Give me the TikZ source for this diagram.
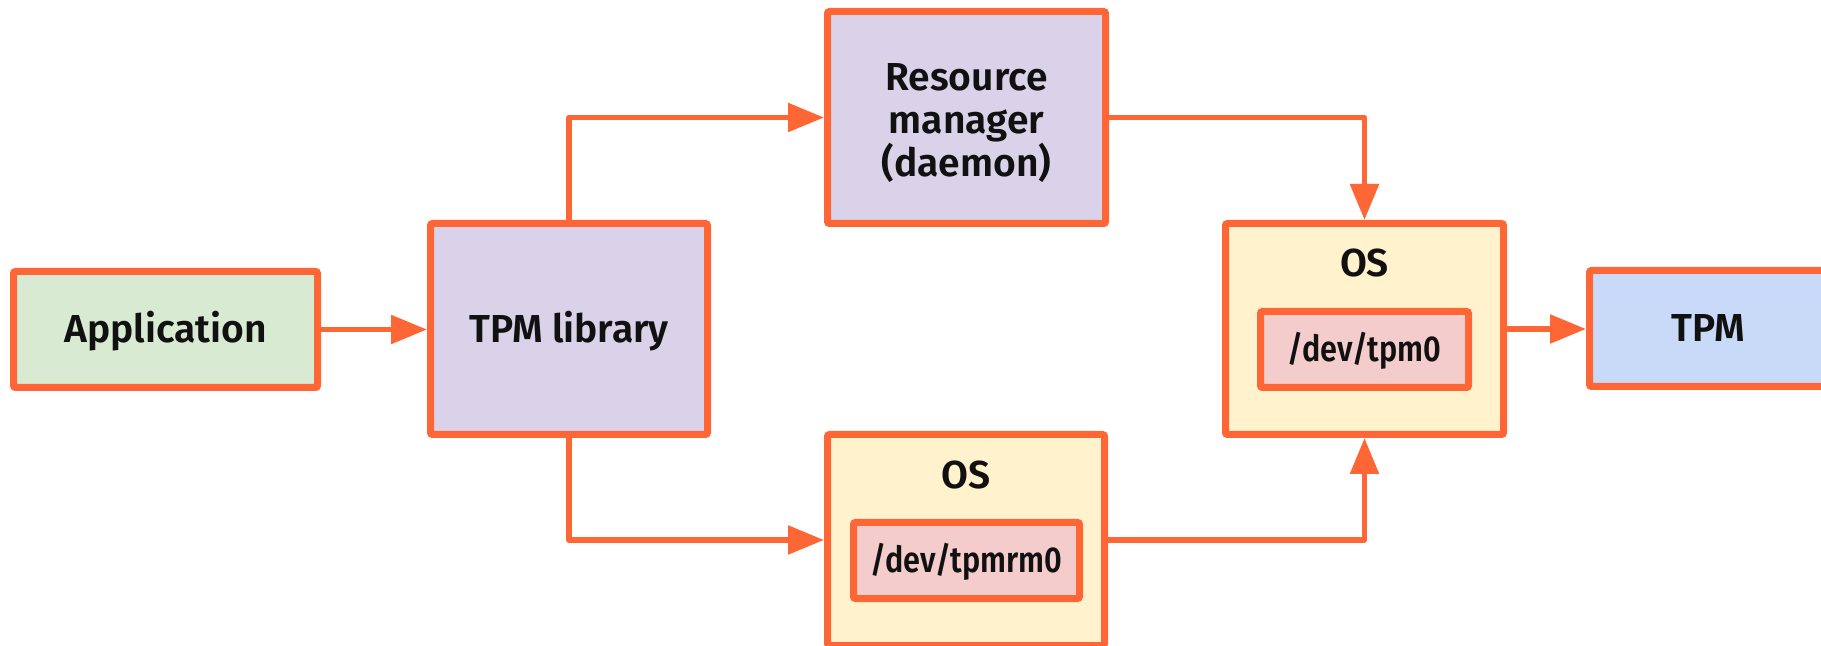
\documentclass[tikz,border=0pt]{standalone}
\usepackage{fontspec}
\newfontfamily\dfont{Fira Sans SemiBold}
\usetikzlibrary{arrows.meta}
\definecolor{edge}{HTML}{FF6636}
\definecolor{appfill}{HTML}{D9EAD3}
\definecolor{libfill}{HTML}{D9D2E9}
\definecolor{osfill}{HTML}{FFF2CC}
\definecolor{devfill}{HTML}{F4CCCC}
\definecolor{tpmfill}{HTML}{C9DAF8}
\definecolor{ink}{HTML}{111111}
\newcommand{\dfontsize}{\dfont\fontsize{19.5pt}{21.5pt}\selectfont}
\newcommand{\devfontsize}{\dfont\fontsize{18pt}{20pt}\selectfont}
\newcommand{\devtext}[1]{\scalebox{0.85}[1]{#1}}
\begin{document}
\begin{tikzpicture}[x=0.5pt,y=-0.5pt,
  box/.style={draw=edge, line width=3.5pt, rounded corners=1pt, inner sep=0pt,
    text=ink, font=\dfontsize, text height=13.4pt, text depth=0pt},
  devbox/.style={box, fill=devfill, font=\devfontsize, text height=12.4pt},
  lbl/.style={inner sep=0pt, text=ink, font=\dfontsize, text height=13.4pt, text depth=0pt},
  rmtxt/.style={inner sep=0pt, text=ink, font=\dfontsize, align=center},
  arr/.style={draw=edge, line width=2.75pt, line join=round,
    -{Triangle[length=18pt,width=14pt]}}]
\clip (0,0) rectangle (1821,646);
\fill[white] (0,0) rectangle (1821,646);

\node[box, fill=appfill, minimum width=152pt, minimum height=58pt] (app) at (165.5,329.5) {Application};
\node[box, fill=libfill, minimum width=138.5pt, minimum height=105.5pt] (lib) at (569,329) {TPM library};
\node[box, fill=libfill, minimum width=139pt, minimum height=106pt] (rm) at (966.5,117.5) {};
\node[rmtxt, anchor=north] (rmt) at (966.5,63) {Resource\\manager\\(daemon)};
\node[box, fill=osfill, minimum width=138.5pt, minimum height=105.5pt] (osb) at (966,540) {};
\node[lbl, anchor=base] (osbl) at (966,488) {OS};
\node[devbox, minimum width=113pt, minimum height=38pt] (rm0) at (966.5,560.5) {\devtext{/dev/tpmrm0}};
\node[box, fill=osfill, minimum width=139pt, minimum height=105.5pt] (ost) at (1364.5,329) {};
\node[lbl, anchor=base] (ostl) at (1364.5,277) {OS};
\node[devbox, minimum width=104pt, minimum height=38pt] (tpm0) at (1364.5,349.5) {\devtext{/dev/tpm0}};
\node[box, fill=tpmfill, minimum width=118.5pt, minimum height=58pt] (tpm) at (1708,328.5) {TPM};

\draw[arr] (app.east) -- (app.east -| lib.west);
\draw[arr] (lib.north) |- (rm.west);
\draw[arr] (lib.south) |- (osb.west);
\draw[arr] (rm.east) -| (ost.north);
\draw[arr] (osb.east) -| (ost.south);
\draw[arr] (ost.east) -- (ost.east -| tpm.west);
\end{tikzpicture}
\end{document}
